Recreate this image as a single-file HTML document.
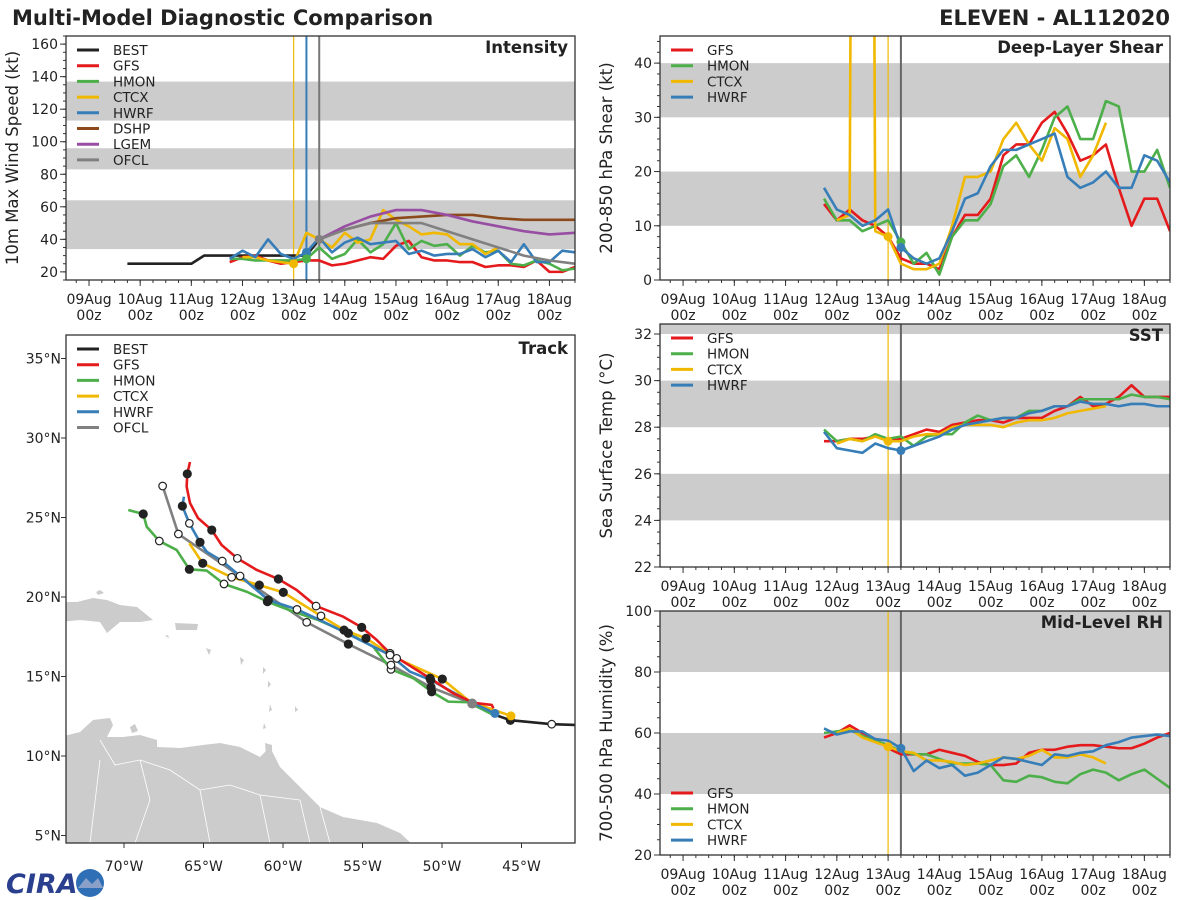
<!DOCTYPE html>
<html><head><meta charset="utf-8"><style>
html,body{margin:0;padding:0;background:#fff;}
svg{display:block;font-family:"DejaVu Sans","Liberation Sans",sans-serif;}
</style></head><body>
<svg id="fig" width="1200" height="900" viewBox="0 0 1200 900" xmlns="http://www.w3.org/2000/svg">
<text x="12" y="25" font-size="21" font-weight="bold" fill="#222">Multi-Model Diagnostic Comparison</text>
<text x="1170" y="25" font-size="21" font-weight="bold" fill="#222" text-anchor="end">ELEVEN - AL112020</text>
<g>
<text x="6" y="893" font-size="27" font-weight="bold" fill="#2b3f8f" font-style="italic">CIRA</text>
<circle cx="90" cy="883" r="14" fill="#2f6fb5"/>
<path d="M78 888 L86 878 L92 884 L98 878 L103 888 Z" fill="#8aa0c8"/>
</g>
<g id="layer"></g>
</svg>
<script>
// ---------- DATA ----------
const dateLabels = ["09Aug","10Aug","11Aug","12Aug","13Aug","14Aug","15Aug","16Aug","17Aug","18Aug"];
const T = [2.75,3,3.25,3.5,3.75,4,4.25,4.5,4.75,5,5.25,5.5,5.75,6,6.25,6.5,6.75,7,7.25,7.5,7.75,8,8.25,8.5,8.75,9,9.25,9.5];
const bestT = [0.75,1,1.25,1.5,1.75,2,2.25,2.5,2.75,3,3.25,3.5,3.75,4,4.25,4.5];
const bestV = [25,25,25,25,25,25,30,30,30,30,30,30,30,30,30,40];
const intGFS = [26,29,30,27,25,26,27,27,24,25,27,29,28,36,39,29,27,27,26,26,23,24,24,23,27,20,20,23];
const intHMON = [28,28,27,27,27,27,28,35,28,31,40,32,37,50,34,39,36,37,30,36,32,33,25,24,27,25,21,22];
const intCTCX = [29,29,27,26,25,44,40,35,44,38,40,58,52,48,43,44,43,37,37,31,35];
const intHWRF = [28,33,29,40,31,28,32,41,32,38,41,37,38,39,31,33,30,31,31,34,29,33,26,37,26,26,33,32];
const statT = [4.5,5,5.5,6,6.5,7,7.5,8,8.5,9,9.5];
const intDSHP = [40,46,50,53,54,55,55,53,52,52,52];
const intLGEM = [40,48,54,58,58,55,51,48,45,43,44];
const intOFCL = [40,46,50,50,50,45,40,35,30,27,25];

const shrGFS = [14,11,13,11,10,8,4,3,3,2,8,12,12,15,23,25,25,29,31,27,22,23,25,17,10,15,15,9];
const shrHMON = [15,11,11,9,10,11,7,3,5,1,8,11,11,14,21,23,19,24,30,32,26,26,33,32,20,20,24,17];
const shrCTCX = [11,12,9999,9,8,3,2,2,3,10,19,19,20,26,29,25,22,28,26,19,23,29];
const shrHWRF = [17,13,12,10,11,13,6,4,3,4,9,15,16,21,24,24,25,26,27,19,17,18,20,17,17,23,22,18];

const sstGFS = [27.4,27.4,27.5,27.5,27.6,27.5,27.5,27.7,27.9,27.8,28.1,28.2,28.3,28.3,28.2,28.4,28.4,28.4,28.7,28.9,29.3,28.9,29.0,29.3,29.8,29.3,29.3,29.3];
const sstHMON = [27.9,27.4,27.5,27.4,27.7,27.5,27.6,27.2,27.6,27.7,27.7,28.2,28.5,28.3,28.4,28.4,28.7,28.7,28.9,28.9,29.2,29.2,29.2,29.2,29.4,29.3,29.3,29.2];
const sstCTCX = [27.3,27.5,27.4,27.6,27.4,27.4,27.6,27.7,27.7,28.0,28.1,28.1,28.1,28.0,28.2,28.3,28.3,28.4,28.6,28.7,28.8,28.9];
const sstHWRF = [27.8,27.1,27.0,26.9,27.3,27.1,27.0,27.2,27.4,27.6,27.9,28.1,28.2,28.3,28.4,28.4,28.6,28.7,28.9,28.9,29.1,29.0,29.0,28.9,29.0,29.0,28.9,28.9];

const rhGFS = [58.5,60,62.5,60,58,55,53,53,53,54.5,53.5,52.5,50.5,49.5,49.5,50,53.5,54.5,54.5,55.5,56,56,55.5,55,55,56.5,58.5,60];
const rhHMON = [60,60.5,61,59,57.5,56,54,53,53,51.5,50,50,50,49.5,44.5,44,46,45.5,44,43.5,46.5,48,47,44.5,46.5,48,45,42];
const rhCTCX = [60,61.5,58.5,57,55.5,54,53.5,51,51,50.5,49.5,50,51,52,51.5,52.5,54.5,52,52,53,52,50];
const rhHWRF = [61.5,59.5,60.5,60.5,58,57.5,55,47.5,51,48.5,49.5,46,47,49.5,52,51.5,50.5,49.5,53,52.5,53.5,54,56,57,58.5,59,59.5,59];

const trkBEST = [[-41.6,11.95],[-43.1,12.0],[-45.7,12.25],[-46.7,12.6],[-48.1,13.3]];
const trkGFS = [[-65.85,28.49],[-66.02,27.74],[-66.06,26.94],[-65.85,25.91],[-65.35,24.97],[-64.48,24.21],[-63.86,23.27],[-62.87,22.43],[-61.65,21.70],[-60.29,21.13],[-59.14,20.44],[-57.92,19.43],[-56.21,18.76],[-55.05,18.09],[-54.11,17.30],[-53.27,16.46],[-52.43,15.93],[-50.75,14.89],[-49.29,13.94],[-48.03,13.35],[-46.87,13.21],[-46.77,13.0]];
const trkHMON = [[-69.73,25.47],[-68.79,25.22],[-68.57,24.42],[-67.78,23.52],[-66.69,22.96],[-65.89,21.74],[-64.80,21.66],[-63.71,20.82],[-62.28,20.33],[-60.98,19.71],[-59.35,19.08],[-57.78,18.55],[-55.89,17.72],[-54.32,16.87],[-53.21,15.45],[-51.80,14.89],[-50.65,14.04],[-49.60,13.42],[-48.35,13.38],[-46.77,12.58]];
const trkCTCX = [[-65.89,23.38],[-65.05,22.12],[-63.23,21.24],[-61.49,20.75],[-59.98,20.29],[-57.61,18.81],[-56.16,17.92],[-54.78,17.40],[-52.85,16.14],[-49.98,14.84],[-48.24,13.42],[-45.66,12.52]];
const trkHWRF = [[-66.23,26.31],[-66.33,25.72],[-65.89,24.63],[-65.22,23.44],[-64.80,22.85],[-63.82,22.26],[-62.70,21.32],[-60.92,19.81],[-59.12,19.22],[-57.47,18.45],[-55.16,17.30],[-53.27,16.35],[-52.01,15.30],[-50.71,14.78],[-48.24,13.42],[-46.67,12.68]];
const trkOFCL = [[-67.57,26.98],[-66.58,23.96],[-62.69,21.30],[-58.51,18.41],[-55.89,17.04],[-53.21,15.72],[-50.69,14.32],[-48.13,13.31]];
// markers: lon, lat, filled(1)/open(0)
const trkMarkers = [[-43.1,12.0,0],[-45.7,12.25,1],[-66.02,27.74,1],[-64.48,24.21,1],[-62.87,22.43,0],[-60.29,21.13,1],[-57.92,19.43,0],[-55.05,18.09,1],[-53.27,16.46,0],[-50.75,14.89,1],
 [-68.79,25.22,1],[-67.78,23.52,0],[-65.89,21.74,1],[-63.71,20.82,0],[-60.98,19.71,1],[-55.89,17.72,1],[-53.21,15.45,0],[-50.65,14.04,1],
 [-65.05,22.12,1],[-63.23,21.24,0],[-61.49,20.75,1],[-59.98,20.29,1],[-57.61,18.81,0],[-56.16,17.92,1],[-54.78,17.40,1],[-52.85,16.14,0],[-49.98,14.84,1],
 [-66.33,25.72,1],[-65.89,24.63,0],[-65.22,23.44,1],[-63.82,22.26,0],[-62.70,21.32,0],[-60.92,19.81,1],[-59.12,19.22,0],[-53.27,16.35,0],[-50.71,14.78,1],
 [-67.57,26.98,0],[-66.58,23.96,0],[-58.51,18.41,0],[-55.89,17.04,1],[-53.21,15.72,0],[-50.69,14.32,1]];
const lonTicks = [-70,-65,-60,-55,-50,-45];
const latTicks = [5,10,15,20,25,30,35];

// ---------- RENDER ----------
const NS="http://www.w3.org/2000/svg";
const layer=document.getElementById('layer');
function mk(tag,attrs,parent){const e=document.createElementNS(NS,tag);for(const k in attrs)e.setAttribute(k,attrs[k]);(parent||layer).appendChild(e);return e;}
const C={BEST:"#222222",GFS:"#e41a1c",HMON:"#4daf4a",CTCX:"#f0b800",HWRF:"#377eb8",DSHP:"#8c4a1c",LGEM:"#984ea3",OFCL:"#808080"};
const D0=-0.45,D1=9.5;

function tsPanel(p){
  const g=mk('g',{});
  
  
  const xs=d=>p.x+(d-D0)/(D1-D0)*p.w;
  const ys=v=>p.y+p.h-(v-p.ymin)/(p.ymax-p.ymin)*p.h;
  const cid='clip-'+p.name;
  const cp=mk('clipPath',{id:cid},g);mk('rect',{x:p.x,y:p.y,width:p.w,height:p.h},cp);
  const inner=mk('g',{'clip-path':'url(#'+cid+')'},g);
  p.bands.forEach(b=>{const r=mk('rect',{x:p.x,y:ys(b[1]),width:p.w,height:ys(b[0])-ys(b[1]),fill:'#cccccc'},inner);
    
    });
  p.vlines.forEach(v=>{mk('line',{x1:xs(v[0]),x2:xs(v[0]),y1:p.y,y2:p.y+p.h,stroke:v[1],'stroke-width':v[2]},inner);});
  p.series.forEach(s=>{
    let pts=s.v.map((v,i)=>[xs(s.t[i]),ys(Math.min(v,p.ymax+500))]);
    const pl=mk('polyline',{points:pts.map(q=>q.join(',')).join(' '),fill:'none',stroke:C[s.k],'stroke-width':2.6,'stroke-linejoin':'round'},inner);
    
    
  });
  (p.dots||[]).forEach(d=>{mk('circle',{cx:xs(d[0]),cy:ys(d[1]),r:4.5,fill:C[d[2]]},inner);});
  mk('rect',{x:p.x,y:p.y,width:p.w,height:p.h,fill:'none',stroke:'#333','stroke-width':1.3},g);
  // y ticks
  for(let v=p.ymin;v<=p.ymax+1e-6;v+=p.minor){const yy=ys(v);mk('line',{x1:p.x-3,x2:p.x,y1:yy,y2:yy,stroke:'#333'},g);}
  p.yt.forEach(v=>{const yy=ys(v);mk('line',{x1:p.x-6,x2:p.x,y1:yy,y2:yy,stroke:'#333'},g);
    const t=mk('text',{x:p.x-8,y:yy+5,'font-size':14,'text-anchor':'end',fill:'#222'},g);t.textContent=v;});
  // x ticks
  for(let d=-0.25;d<=D1;d+=0.25){const xx=xs(d);mk('line',{x1:xx,x2:xx,y1:p.y+p.h,y2:p.y+p.h+3,stroke:'#333'},g);}
  dateLabels.forEach((lab,i)=>{const xx=xs(i);mk('line',{x1:xx,x2:xx,y1:p.y+p.h,y2:p.y+p.h+6,stroke:'#333'},g);
    const t=mk('text',{x:xx,y:p.y+p.h+24,'font-size':14,'text-anchor':'middle',fill:'#222'},g);t.textContent=lab;
    const t2=mk('text',{x:xx,y:p.y+p.h+40,'font-size':14,'text-anchor':'middle',fill:'#222'},g);t2.textContent='00z';});
  const yl=mk('text',{x:0,y:0,'font-size':16.5,'text-anchor':'middle',fill:'#222',transform:`translate(${p.x-48},${p.y+p.h/2}) rotate(-90)`},g);
  yl.textContent=p.ylabel;
  
  
  const ti=mk('text',{x:p.x+p.w-7,y:p.y+17,'font-size':16.5,'font-weight':'bold','text-anchor':'end',fill:'#222'},g);ti.textContent=p.title;
  
  
  legend(g,p.x+11,p.legY,p.legend);
}
function legend(g,x,y,keys){
  const lg=mk('g',{},g);
  
  
  keys.forEach((k,i)=>{const yy=y+i*15.7;
    mk('line',{x1:x,x2:x+22,y1:yy,y2:yy,stroke:C[k],'stroke-width':3},lg);
    const t=mk('text',{x:x+36,y:yy+5,'font-size':13.5,fill:'#222'},lg);t.textContent=k;
    
    });
}
const slice=(n,start)=>T.slice(start,start+n);

tsPanel({name:'intensity-panel',x:66,y:36,w:509,h:244,ymin:15,ymax:165,minor:5,yt:[20,40,60,80,100,120,140,160],
  bands:[[34,64],[83,96],[113,137]],vlines:[[4,'#f0b800',1.2],[4.25,'#377eb8',2],[4.5,'#777',2]],
  ylabel:'10m Max Wind Speed (kt)',title:'Intensity',legY:50,legend:['BEST','GFS','HMON','CTCX','HWRF','DSHP','LGEM','OFCL'],
  series:[{k:'BEST',t:bestT,v:bestV},{k:'GFS',t:T,v:intGFS},{k:'HMON',t:T,v:intHMON},{k:'CTCX',t:slice(21,1),v:intCTCX},{k:'HWRF',t:T,v:intHWRF},
    {k:'DSHP',t:statT,v:intDSHP},{k:'LGEM',t:statT,v:intLGEM},{k:'OFCL',t:statT,v:intOFCL}],
  dots:[[4,25,'CTCX'],[4.25,32,'HWRF'],[4.25,28,'HMON'],[4.5,40,'OFCL']]});
tsPanel({name:'shear-panel',x:660,y:36,w:510,h:244,ymin:0,ymax:45,minor:2,yt:[0,10,20,30,40],
  bands:[[10,20],[30,40]],vlines:[[4,'#f0b800',1.2],[4.25,'#666',2]],
  ylabel:'200-850 hPa Shear (kt)',title:'Deep-Layer Shear',legY:50,legend:['GFS','HMON','CTCX','HWRF'],
  series:[{k:'GFS',t:T,v:shrGFS},{k:'HMON',t:T,v:shrHMON},{k:'CTCX',t:slice(22,1),v:shrCTCX},{k:'HWRF',t:T,v:shrHWRF}],
  dots:[[4,8,'CTCX'],[4.25,7,'HMON'],[4.25,6,'HWRF']]});
tsPanel({name:'sst-panel',x:660,y:324,w:510,h:243,ymin:22,ymax:32.43,minor:0.5,yt:[22,24,26,28,30,32],
  bands:[[24,26],[28,30],[32,33]],vlines:[[4,'#f0b800',1.2],[4.25,'#666',2]],
  ylabel:'Sea Surface Temp (°C)',title:'SST',legY:338,legend:['GFS','HMON','CTCX','HWRF'],
  series:[{k:'GFS',t:T,v:sstGFS},{k:'HMON',t:T,v:sstHMON},{k:'CTCX',t:slice(22,1),v:sstCTCX},{k:'HWRF',t:T,v:sstHWRF}],
  dots:[[4,27.4,'CTCX'],[4.25,27.0,'HWRF']]});
tsPanel({name:'rh-panel',x:660,y:611,w:510,h:244,ymin:20,ymax:100,minor:5,yt:[20,40,60,80,100],
  bands:[[40,60],[80,100]],vlines:[[4,'#f0b800',1.2],[4.25,'#666',2]],
  ylabel:'700-500 hPa Humidity (%)',title:'Mid-Level RH',legY:793,legend:['GFS','HMON','CTCX','HWRF'],
  series:[{k:'GFS',t:T,v:rhGFS},{k:'HMON',t:T,v:rhHMON},{k:'CTCX',t:slice(22,1),v:rhCTCX},{k:'HWRF',t:T,v:rhHWRF}],
  dots:[[4,55.5,'CTCX'],[4.25,55,'HWRF']]});

// Track panel
(function(){
  const P={x:66,y:335,w:509,h:508};
  const g=mk('g',{});
  
  
  const lx=lon=>124+(lon+70)*15.9;
  const ly=lat=>597-(lat-20)*15.9;
  mk('clipPath',{id:'clip-trk'},g).appendChild(Object.assign(document.createElementNS(NS,'rect'),{}));
  const cpr=g.querySelector('#clip-trk rect');cpr.setAttribute('x',P.x);cpr.setAttribute('y',P.y);cpr.setAttribute('width',P.w);cpr.setAttribute('height',P.h);
  const inner=mk('g',{'clip-path':'url(#clip-trk)'},g);
  const land=mk('g',{fill:'#cccccc'},inner);
  
  
  mk('path',{d:'M60 737 L80 732 L93 720 L110 718 L113 725 L107 737 L123 737 L140 735 L157 740 L157 747 L180 748 L203 745 L220 743 L240 747 L260 757 L270 747 L273 753 L280 767 L300 787 L320 807 L343 817 L377 823 L400 833 L413 845 L60 845 Z'},land);
  mk('path',{d:'M60 602 L77 602 L93 598 L107 600 L120 605 L137 607 L153 620 L140 622 L120 622 L107 633 L100 622 L80 620 L60 622 Z'},land);
  mk('path',{d:'M175 623 L198 624 L197 630 L176 630 Z'},land);
  mk('path',{d:'M96 592 L100 590 L104 593 L98 595Z M165 636 L168 635 L169 638Z M206 648 L211 650 L209 655Z M240 657 L244 660 L241 665Z M263 667 L266 670 L263 674Z M268 681 L271 684 L268 688Z M270 704 L272 710 L269 712Z M295 706 L298 710 L295 712Z M264 723 L266 728 L263 729Z M265 743 L272 745 L272 756 L266 756Z M130 727 L135 724 L138 731 L132 733Z'},land);
  const b=mk('g',{stroke:'#fff','stroke-width':0.8,fill:'none'},land);
  mk('path',{d:'M100 740 L115 765 L140 760 L170 770 L200 790 L230 785 L260 795 L300 800 M140 760 L150 800 L135 843 M200 790 L210 843 M260 795 L270 843 M300 800 L310 843 M320 807 L330 843 M100 760 L90 843'},b);
  const tracks=[['BEST',trkBEST],['OFCL',trkOFCL],['HMON',trkHMON],['CTCX',trkCTCX],['HWRF',trkHWRF],['GFS',trkGFS]];
  tracks.forEach(([k,arr])=>{
    const pl=mk('polyline',{points:arr.map(q=>lx(q[0])+','+ly(q[1])).join(' '),fill:'none',stroke:C[k],'stroke-width':2.6,'stroke-linejoin':'round'},inner);
    
    
  });
  trkMarkers.forEach(m=>{
    const c=mk('circle',{cx:lx(m[0]),cy:ly(m[1]),r:m[2]?4:3.8,fill:m[2]?'#222':'#fff',stroke:'#222','stroke-width':1.2},inner);
    
    
  });
  mk('circle',{cx:lx(-48.1),cy:ly(13.3),r:5,fill:'#808080'},inner);
  mk('circle',{cx:lx(-46.67),cy:ly(12.68),r:4.5,fill:C.HWRF},inner);
  mk('circle',{cx:lx(-45.66),cy:ly(12.52),r:4.5,fill:C.CTCX},inner);
  mk('rect',{x:P.x,y:P.y,width:P.w,height:P.h,fill:'none',stroke:'#333','stroke-width':1.3},g);
  lonTicks.forEach(v=>{const xx=lx(v);mk('line',{x1:xx,x2:xx,y1:P.y+P.h,y2:P.y+P.h+5,stroke:'#333'},g);
    const t=mk('text',{x:xx,y:P.y+P.h+28,'font-size':14,'text-anchor':'middle',fill:'#222'},g);t.textContent=(-v)+'°W';});
  latTicks.forEach(v=>{const yy=ly(v);mk('line',{x1:P.x-5,x2:P.x,y1:yy,y2:yy,stroke:'#333'},g);
    const t=mk('text',{x:P.x-5,y:yy+5,'font-size':14,'text-anchor':'end',fill:'#222'},g);t.textContent=v+'°N';});
  const ti=mk('text',{x:P.x+P.w-7,y:P.y+19,'font-size':16.5,'font-weight':'bold','text-anchor':'end',fill:'#222'},g);ti.textContent='Track';
  
  
  legend(g,77,349,['BEST','GFS','HMON','CTCX','HWRF','OFCL']);
})();
</script>
</body></html>
